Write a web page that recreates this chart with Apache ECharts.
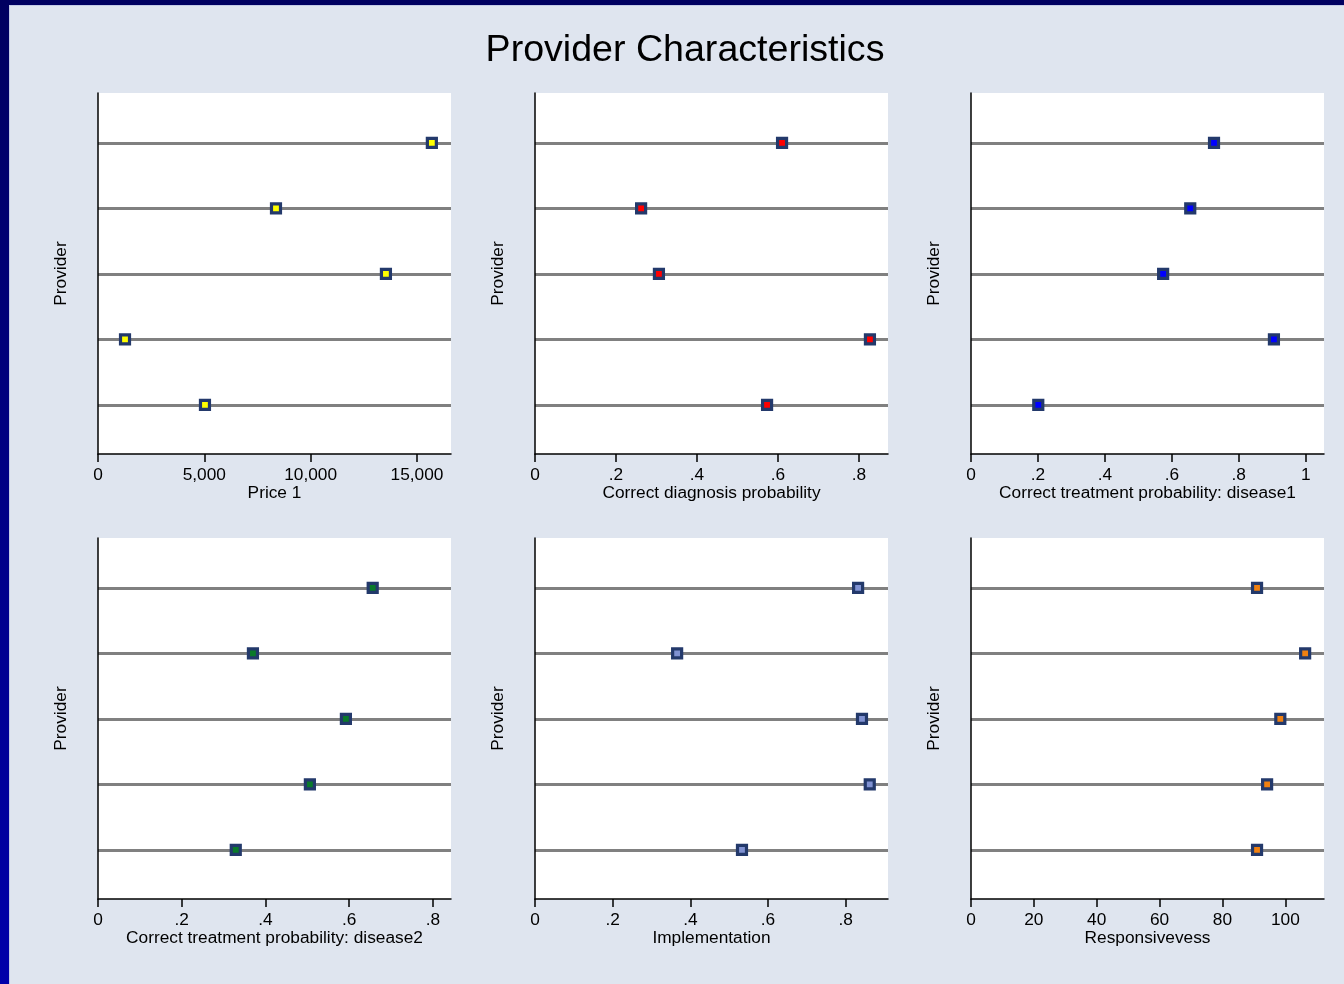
<!DOCTYPE html>
<html><head><meta charset="utf-8">
<script src="https://cdn.jsdelivr.net/npm/echarts@6/dist/echarts.min.js"></script>
<style>
html,body{margin:0;padding:0;width:1344px;height:984px;overflow:hidden;background:linear-gradient(#000060,#0000aa);}
#c{position:absolute;left:9px;top:5px;width:1335px;height:979px;background:#dfe5ef;box-shadow:inset 1px 1px 0 #c4cbe6;}
</style>
</head><body><div id="c"></div><script>
// Provider rows, top to bottom, placed at these positions on the Provider axis
const providerPos = [5, 4, 3, 2, 1];

// Series values (top row first)
const price1         = [15700, 8370, 13540, 1270, 5030];
const diagnosis      = [0.610, 0.262, 0.306, 0.827, 0.573];
const treatment1     = [0.726, 0.655, 0.574, 0.905, 0.201];
const treatment2     = [0.656, 0.370, 0.592, 0.506, 0.329];
const implementation = [0.832, 0.366, 0.842, 0.862, 0.533];
const responsiveness = [91.0, 106.3, 98.4, 94.2, 91.0];

// Tick values
const priceTicks = [0, 5000, 10000, 15000];
const prob8Ticks = [0, 0.2, 0.4, 0.6, 0.8];
const prob10Ticks = [0, 0.2, 0.4, 0.6, 0.8, 1];
const respTicks = [0, 20, 40, 60, 80, 100];

const titles = ['Price 1', 'Correct diagnosis probability', 'Correct treatment probability: disease1',
  'Correct treatment probability: disease2', 'Implementation', 'Responsivevess'];

const FONT = '"Liberation Sans", Arial, sans-serif';
const FS = 17.3;
const commas = v => String(Math.round(v)).replace(/\B(?=(\d{3})+(?!\d))/g, ',');
const stataDec = v => (v === 0 ? '0' : v === 1 ? '1' : String(+v.toFixed(2)).replace(/^0\./, '.'));
const plain = v => String(v);

const panels = [
  { vals: price1, ticks: priceTicks, max: 16600, fmt: commas, fill: '#ffff00' },
  { vals: diagnosis, ticks: prob8Ticks, max: 0.8716, fmt: stataDec, fill: '#ff0000' },
  { vals: treatment1, ticks: prob10Ticks, max: 1.0546, fmt: stataDec, fill: '#0000ff' },
  { vals: treatment2, ticks: prob8Ticks, max: 0.843, fmt: stataDec, fill: '#0a7a2a' },
  { vals: implementation, ticks: prob8Ticks, max: 0.909, fmt: stataDec, fill: '#8092d2' },
  { vals: responsiveness, ticks: respTicks, max: 112.3, fmt: plain, fill: '#f08010' }
];

const lefts = [89, 526, 962];
const tops = [88, 533];
const grid = [], xAxis = [], yAxis = [], series = [];

panels.forEach((p, i) => {
  grid.push({ left: lefts[i % 3], top: tops[Math.floor(i / 3)], width: 353, height: 361,
    show: true, backgroundColor: '#ffffff', borderWidth: 0 });
  xAxis.push({
    gridIndex: i, type: 'value', min: 0, max: p.max, z: 3,
    axisLine: { show: true, onZero: false, lineStyle: { color: '#000', width: 1.5 } },
    axisTick: { show: true, length: 8, customValues: p.ticks, lineStyle: { color: '#000', width: 1.5 } },
    axisLabel: { customValues: p.ticks, formatter: p.fmt, color: '#000', fontSize: FS, fontFamily: FONT, margin: 13 },
    splitLine: { show: false },
    name: titles[i], nameLocation: 'middle', nameGap: 28,
    nameTextStyle: { color: '#000', fontSize: FS, fontFamily: FONT }
  });
  yAxis.push({
    gridIndex: i, type: 'value', min: 0.25, max: 5.76, z: 3,
    axisLine: { show: true, onZero: false, lineStyle: { color: '#000', width: 1.5 } },
    axisTick: { show: false }, axisLabel: { show: false }, splitLine: { show: false },
    name: 'Provider', nameLocation: 'middle', nameGap: 28, nameRotate: 90,
    nameTextStyle: { color: '#000', fontSize: FS, fontFamily: FONT }
  });
  series.push({
    type: 'scatter', xAxisIndex: i, yAxisIndex: i, z: 4, silent: true,
    data: p.vals.map((v, k) => [v, providerPos[k]]),
    symbol: 'rect', symbolSize: 9,
    itemStyle: { color: p.fill, borderColor: '#23396b', borderWidth: 3.2, opacity: 1 },
    markLine: {
      z: 1, silent: true, symbol: 'none', label: { show: false },
      lineStyle: { color: '#808080', width: 3, type: 'solid' },
      emphasis: { disabled: true },
      data: providerPos.map(y => ({ yAxis: y }))
    }
  });
});

const chart = echarts.init(document.getElementById('c'), null, { renderer: 'canvas' });
chart.setOption({
  animation: false,
  backgroundColor: 'transparent',
  graphic: [{
    type: 'text', x: 676, y: 46,
    style: { text: 'Provider Characteristics', font: '37.6px "Liberation Sans", Arial, sans-serif',
      fill: '#000', align: 'center', verticalAlign: 'middle', textAlign: 'center', textVerticalAlign: 'middle' }
  }],
  grid, xAxis, yAxis, series
});
</script></body></html>
